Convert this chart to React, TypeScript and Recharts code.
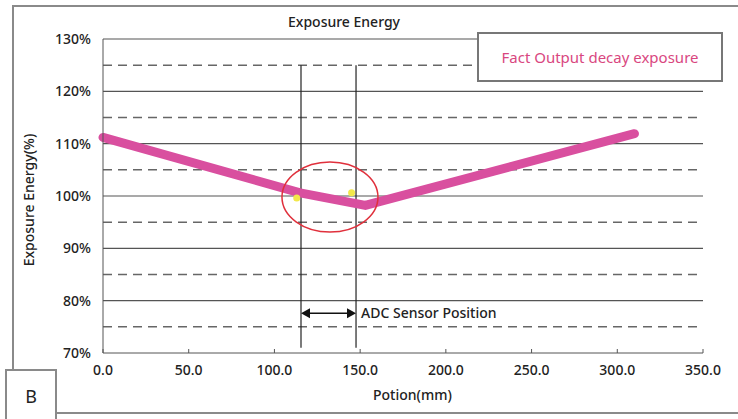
import React from "react";
import {
  ComposedChart,
  Line,
  XAxis,
  YAxis,
  ReferenceLine,
  ReferenceDot,
} from "recharts";

// position along the scan (mm) and measured exposure energy (%)
const positions = [0, 115, 153, 310];
const exposure = [111.2, 100.6, 98.2, 111.9];

const xTicks = [0, 50, 100, 150, 200, 250, 300, 350];
const yTicks = [70, 80, 90, 100, 110, 120, 130];
const solidGrid = [80, 90, 100, 110, 120, 130];
const dashedGrid = [75, 85, 95, 105, 115, 125];

// ADC sensor window
const sensorX = [115.5, 147.6];
const sensorTop = 125;
const sensorBottom = 71;
const arrowY = 77.6;

// yellow sample marks near the sensors
const markX = [113, 145];
const markY = [99.6, 100.6];

// red circle around the dip
const circleX = 132.4;
const circleY = 99.8;

const seriesName = "Fact Output decay exposure";
const chartData = positions.map((p, i) => ({ pos: p, value: exposure[i] }));

const FONT = "'Noto Sans', 'DejaVu Sans', sans-serif";
const PINK = "#d94f9f";
const FRAME = "#8a8a8a";

const Arrow = (props: any) => {
  const { x1, y1, x2 } = props;
  const y = y1;
  return (
    <g>
      <line x1={x1 + 6} y1={y} x2={x2 - 6} y2={y} stroke="#111" strokeWidth={1.5} />
      <polygon points={`${x1},${y} ${x1 + 9},${y - 5} ${x1 + 9},${y + 5}`} fill="#111" />
      <polygon points={`${x2},${y} ${x2 - 9},${y - 5} ${x2 - 9},${y + 5}`} fill="#111" />
      <text x={x2 + 5} y={y} dy="0.35em" fontSize={14} fontWeight={500} fill="#222" fontFamily={FONT}>
        ADC Sensor Position
      </text>
    </g>
  );
};

const Ring = (props: any) => {
  const { cx, cy } = props;
  return <ellipse cx={cx} cy={cy} rx={48} ry={35} fill="none" stroke="#e0303c" strokeWidth={1.5} />;
};

const tickStyle = { fill: "#222", fontSize: 14, fontWeight: 500, fontFamily: FONT };

const App = () => {
  return (
    <div style={{ position: "absolute", left: 0, top: 0, width: 738, height: 419, fontFamily: FONT, background: "#fff" }}>
      {/* outer frame and "B" box */}
      <div style={{ position: "absolute", left: 12, top: 5, width: 726, height: 0, borderTop: `2px solid ${FRAME}` }} />
      <div style={{ position: "absolute", left: 12, top: 5, width: 0, height: 364, borderLeft: `2px solid ${FRAME}` }} />
      <div style={{ position: "absolute", left: 55, top: 412, width: 683, height: 0, borderTop: `2px solid ${FRAME}` }} />
      <div
        style={{
          position: "absolute",
          left: 5,
          top: 369,
          width: 48,
          height: 60,
          border: `2px solid ${FRAME}`,
          background: "#fff",
          fontSize: 18,
          color: "#222",
          textAlign: "center",
          lineHeight: "50px",
        }}
      >
        B
      </div>
      <div style={{ position: "absolute", left: 288, top: 12, fontSize: 14, fontWeight: 500, color: "#222" }}>
        Exposure Energy
      </div>
      <div
        style={{
          position: "absolute",
          left: 28,
          top: 200,
          transform: "translate(-50%, -50%) rotate(-90deg)",
          whiteSpace: "nowrap",
          fontSize: 14,
          fontWeight: 500,
          color: "#222",
        }}
      >
        Exposure Energy(%)
      </div>
      <div style={{ position: "absolute", left: 373, top: 385, fontSize: 14, fontWeight: 500, color: "#222" }}>
        Potion(mm)
      </div>

      <div style={{ position: "absolute", left: 0, top: 0 }}>
        <ComposedChart width={738} height={419} data={chartData} margin={{ top: 39, right: 35, bottom: 36, left: 33 }}>
          <XAxis
            dataKey="pos"
            type="number"
            domain={[0, 350]}
            ticks={xTicks}
            tickFormatter={(v: number) => v.toFixed(1)}
            tickSize={-4}
            tickMargin={16}
            height={30}
            stroke="#555"
            tick={tickStyle}
            interval={0}
          />
          <YAxis
            type="number"
            domain={[70, 130]}
            ticks={yTicks}
            tickFormatter={(v: number) => `${v}%`}
            tickLine={false}
            tickMargin={6}
            width={70}
            stroke="#555"
            tick={tickStyle}
            interval={0}
          />
          {dashedGrid.map((v) => (
            <ReferenceLine key={`d${v}`} y={v} stroke="#666" strokeDasharray="9 6" strokeWidth={1.5} />
          ))}
          {solidGrid.map((v) => (
            <ReferenceLine key={`s${v}`} y={v} stroke="#555" strokeWidth={1.2} />
          ))}
          {sensorX.map((x) => (
            <ReferenceLine
              key={`v${x}`}
              segment={[
                { x, y: sensorTop },
                { x, y: sensorBottom },
              ]}
              stroke="#222"
              strokeWidth={1.2}
            />
          ))}
          <Line
            dataKey="value"
            name={seriesName}
            type="linear"
            stroke={PINK}
            strokeWidth={9}
            strokeLinecap="round"
            strokeLinejoin="round"
            dot={false}
            activeDot={false}
            isAnimationActive={false}
          />
          {markX.map((x, i) => (
            <ReferenceDot key={`m${x}`} x={x} y={markY[i]} r={3.5} fill="#f2e84a" stroke="none" />
          ))}
          <ReferenceDot x={circleX} y={circleY} r={1} shape={<Ring />} />
          <ReferenceLine
            segment={[
              { x: sensorX[0], y: arrowY },
              { x: sensorX[1], y: arrowY },
            ]}
            shape={<Arrow />}
          />
        </ComposedChart>
      </div>

      {/* legend box */}
      <div
        style={{
          position: "absolute",
          left: 477,
          top: 32,
          width: 242,
          height: 46,
          border: "2px solid #777",
          background: "#fff",
          display: "flex",
          alignItems: "center",
          justifyContent: "center",
          color: "#d9477f",
          fontSize: 15,
        }}
      >
        {seriesName}
      </div>
    </div>
  );
};

export default App;
